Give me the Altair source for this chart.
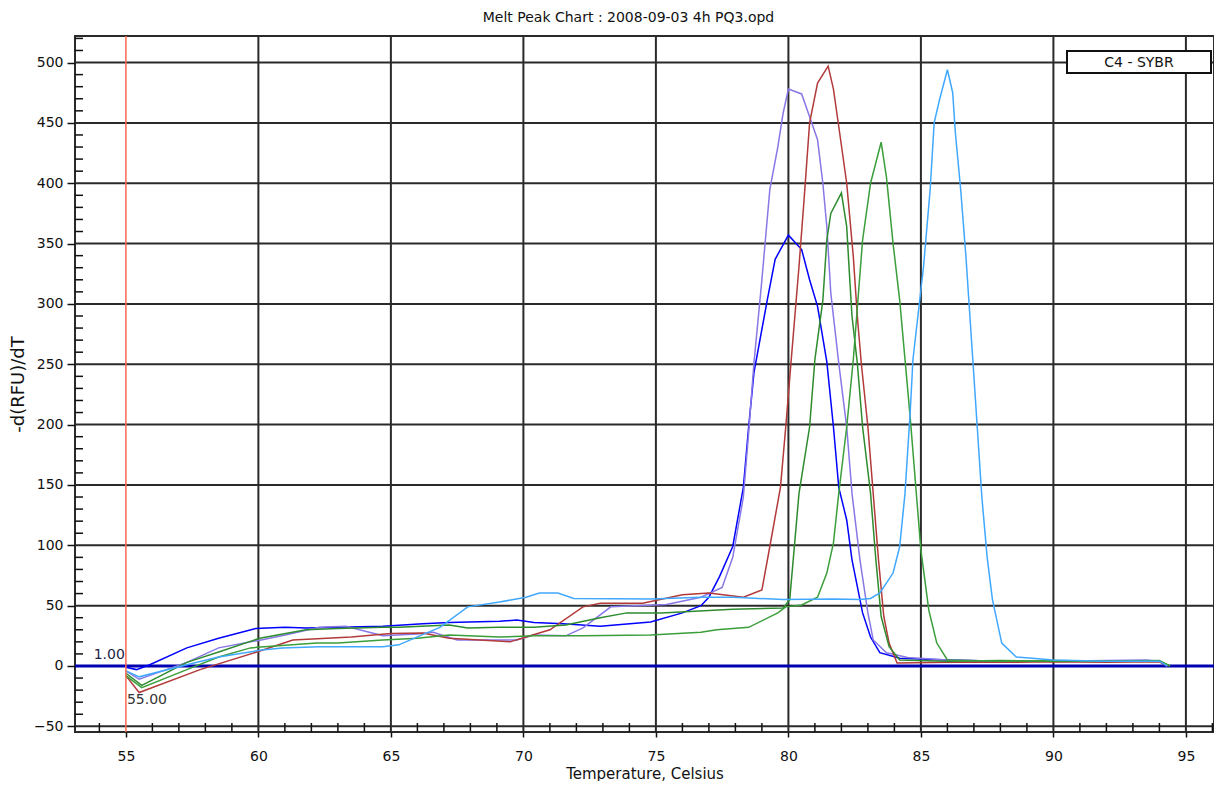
import altair as alt
import pandas as pd

# ---------------- data ----------------
series_names = ["blue", "purple", "red", "green1", "green2", "lightblue"]
series_colors = ["#0000FF", "#8878E6", "#B23A3A", "#2E8B2E", "#3A9E3A", "#40A8FF"]

blue_t = [55.0, 55.4, 55.9, 57.3, 58.5, 59.9, 61.0, 61.8, 63.0, 64.7, 66.2, 67.2, 69.1, 69.75, 70.4, 71.5, 72.9,
          74.8, 76.0, 76.7, 77.0, 77.4, 77.9, 78.3, 78.5, 78.7, 79.2, 79.5, 80.0, 80.5, 80.8, 81.1, 81.45, 81.7,
          81.9, 82.2, 82.4, 82.8, 83.1, 83.45, 84.2, 86.0, 88.0, 90.0, 92.0, 94.0, 94.3]
blue_v = [-1, -3, 1, 15, 23, 31, 32, 31.5, 32, 33, 35, 36, 37, 38, 36, 35, 33,
          36.5, 44, 50, 57, 74, 99, 148, 198, 243, 303, 337, 357, 345, 320, 298, 252, 198,
          148, 121, 88, 44, 24, 11, 6.5, 5, 4, 4, 4, 4, 0]

purple_t = [55.0, 55.5, 57.3, 58.5, 60.1, 61.1, 62.3, 63.3, 64.7, 66.0, 66.6, 67.5, 69.75, 70.4, 71.6, 72.25,
            73.3, 75.4, 76.7, 77.5, 77.9, 78.3, 78.5, 78.7, 79.0, 79.3, 79.6, 79.8, 80.0, 80.5, 80.8, 81.1, 81.3,
            81.45, 81.6, 81.9, 82.2, 82.4, 82.7, 83.0, 83.2, 83.7, 84.5, 86.0, 88.0, 90.0, 92.0, 93.5, 94.0, 94.3]
purple_v = [-4, -11, 3, 15, 21.6, 26, 32, 33, 25, 26.5, 28, 21.6, 21.6, 25.7, 25, 31.5,
            49, 51, 57, 65, 90, 140, 193, 251, 320, 395, 430, 458, 478, 474, 455, 436, 400,
            364, 309, 251, 198, 143, 88, 44, 21.6, 11, 7, 5, 4, 4, 4.5, 5, 4, 0]

red_t = [55.0, 55.5, 57.8, 60.0, 61.3, 63.5, 65.0, 66.2, 67.2, 69.5, 70.1, 71.0, 72.25, 72.9, 74.5, 76.0, 77.0,
         78.3, 79.0, 79.3, 79.7, 79.9, 80.1, 80.4, 80.6, 80.8, 81.1, 81.5, 81.7, 81.9, 82.2, 82.45, 82.6, 82.75,
         83.0, 83.2, 83.4, 83.6, 83.8, 84.1, 86.0, 88.0, 90.0, 92.0, 94.0, 94.3]
red_v = [-8, -22, -3, 12, 21.6, 24, 27, 27.4, 23, 20, 24, 30, 49, 52, 52, 59, 60.5,
         57, 63, 99, 148, 198, 252, 331, 389, 450, 483, 497, 478, 447, 400, 339, 290, 251,
         198, 143, 88, 41, 19, 2.5, 3, 3, 3.5, 3, 3.5, 0]

green1_t = [55.0, 55.6, 57.3, 58.5, 60.05, 61.8, 63.0, 64.7, 65.3, 67.2, 67.9, 69.1, 70.4, 71.6, 72.9, 73.9,
            75.2, 77.9, 79.8, 80.05, 80.4, 80.8, 81.0, 81.3, 81.45, 81.6, 82.0, 82.2, 82.3, 82.4, 82.6, 82.8,
            83.1, 83.3, 83.5, 83.8, 84.2, 86.0, 88.0, 90.0, 92.0, 94.0, 94.4]
green1_v = [-6, -16, 3, 11.6, 23, 30, 31, 32, 32, 34, 31.5, 32, 32, 34, 40, 44,
            44, 47, 48, 55, 143, 198, 254, 303, 353, 375, 392, 364, 326, 290, 251, 198,
            143, 88, 41, 16, 5, 4, 4.5, 4, 4, 4, 0]

green2_t = [55.0, 55.6, 57.3, 58.5, 59.7, 62.2, 63.0, 64.7, 66.0, 67.2, 69.1, 70.4, 72.25, 74.8, 76.7, 77.3,
            78.5, 79.6, 79.9, 80.5, 81.1, 81.45, 81.7, 81.9, 82.2, 82.45, 82.8, 83.1, 83.5, 83.7, 83.95, 84.2,
            84.6, 85.0, 85.3, 85.6, 86.0, 88.0, 90.0, 92.0, 94.0, 94.4]
green2_v = [-8, -18, -3, 7.5, 15, 19, 19, 21.6, 23, 25.7, 24, 25, 25, 25.7, 28, 30,
            32, 44, 49, 50.6, 57, 77, 102, 143, 198, 254, 353, 400, 434, 405, 350, 303,
            205, 96, 46, 19, 5, 4, 4.5, 4, 4.5, 0]

lightblue_t = [55.0, 55.5, 57.3, 58.5, 60.05, 60.9, 62.3, 64.7, 65.3, 66.2, 66.85, 67.9, 69.1, 70.1, 70.6, 71.3,
               71.9, 74.8, 76.7, 77.9, 79.8, 81.7, 82.7, 83.1, 83.45, 83.95, 84.2, 84.4, 84.6, 84.7, 85.1, 85.35,
               85.5, 85.7, 86.0, 86.2, 86.3, 86.5, 86.7, 86.8, 87.0, 87.3, 87.5, 87.7, 88.05, 88.6, 89.2, 90.0,
               92.0, 94.0, 94.3]
lightblue_v = [-4, -9, 1, 7.5, 13, 15, 16, 16, 17.5, 26, 32, 49, 53, 57, 60.5, 60.5,
               56, 55.5, 57, 57, 55, 55.5, 55, 56, 60.5, 77, 99, 143, 212, 254, 331, 395,
               450, 469, 494, 475, 442, 395, 339, 306, 240, 140, 90, 55, 19, 7.5, 6.5, 5,
               4, 4, 0]

x_labels = [55, 60, 65, 70, 75, 80, 85, 90, 95]
x_grid = [60, 65, 70, 75, 80, 85, 90, 95]
y_labels = [-50, 0, 50, 100, 150, 200, 250, 300, 350, 400, 450, 500]
x_minor = [v for v in range(54, 97) if v % 5 != 0]
y_minor = [v for v in range(-50, 521, 10) if v % 50 != 0]

title_text = "Melt Peak Chart : 2008-09-03 4h PQ3.opd"
legend_text = "C4 - SYBR"

# ---------------- build table ----------------
rows = []
for name, ts, vs in [("blue", blue_t, blue_v), ("purple", purple_t, purple_v), ("red", red_t, red_v),
                     ("green1", green1_t, green1_v), ("green2", green2_t, green2_v),
                     ("lightblue", lightblue_t, lightblue_v)]:
    for t, v in zip(ts, vs):
        rows.append({"series": name, "temp": t, "value": v})
df = pd.DataFrame(rows)

W, H = 1139, 696
FONT = "DejaVu Sans"
xscale = alt.Scale(domain=[53.08, 96.06], nice=False, zero=False)
yscale = alt.Scale(domain=[-54.7, 522], nice=False, zero=False)

XAX = alt.Axis(values=x_labels, title="Temperature, Celsius", grid=False, tickSize=5,
               labelPadding=12, titlePadding=3, format="d", titleFontSize=15)
YAX = alt.Axis(values=y_labels, title="-d(RFU)/dT", grid=False, tickSize=8,
               labelPadding=4, titlePadding=6, format="d", titleFontSize=18)


def X(field):
    return alt.X(field, scale=xscale, axis=XAX)


def Y(field):
    return alt.Y(field, scale=yscale, axis=YAX)


xgrid = alt.Chart(pd.DataFrame({"temp": x_grid})).mark_rule(color="#2a2a2a", strokeWidth=2).encode(
    x=X("temp:Q"))
ygrid = alt.Chart(pd.DataFrame({"value": y_labels})).mark_rule(color="#2a2a2a", strokeWidth=2).encode(
    y=Y("value:Q"))
yminor = alt.Chart(pd.DataFrame({"value": y_minor})).mark_rule(color="#111", strokeWidth=1.5).encode(
    y=Y("value:Q"), x=alt.value(0), x2=alt.value(8))
xminor = alt.Chart(pd.DataFrame({"temp": x_minor})).mark_rule(color="#111", strokeWidth=1.5).encode(
    x=X("temp:Q"), y=alt.value(H - 9), y2=alt.value(H))
zero = alt.Chart(pd.DataFrame({"value": [0]})).mark_rule(color="#0000B0", strokeWidth=3).encode(
    y=Y("value:Q"))

lines = alt.Chart(df).mark_line(strokeWidth=1.5).encode(
    x=X("temp:Q"),
    y=Y("value:Q"),
    color=alt.Color("series:N", scale=alt.Scale(domain=series_names, range=series_colors), legend=None),
    detail="series:N",
)

cursor = alt.Chart(pd.DataFrame({"temp": [55]})).mark_rule(color="#FF6A4D", strokeWidth=1.5).encode(
    x=X("temp:Q"))

lbl_a = alt.Chart(pd.DataFrame({"temp": [55], "value": [0], "t": ["1.00"]})).mark_text(
    align="right", baseline="bottom", dx=-1, dy=-4, font=FONT, fontSize=14, color="#22224a").encode(
    x=X("temp:Q"), y=Y("value:Q"), text="t:N")
lbl_b = alt.Chart(pd.DataFrame({"temp": [55], "value": [0], "t": ["55.00"]})).mark_text(
    align="left", baseline="top", dx=1, dy=27, font=FONT, fontSize=14, color="#333333").encode(
    x=X("temp:Q"), y=Y("value:Q"), text="t:N")

box = alt.Chart(pd.DataFrame({"t": [legend_text]})).mark_rect(
    fill="white", stroke="#111", strokeWidth=2).encode(
    x=alt.value(992), x2=alt.value(1136), y=alt.value(15), y2=alt.value(37))
box_text = alt.Chart(pd.DataFrame({"t": [legend_text]})).mark_text(
    font=FONT, fontSize=14, color="#111", align="center", baseline="middle").encode(
    x=alt.value(1064), y=alt.value(26.5), text="t:N")

chart = alt.layer(xgrid, ygrid, yminor, xminor, zero, lines, cursor, lbl_a, lbl_b, box, box_text).properties(
    width=W, height=H,
    title=alt.TitleParams(title_text, anchor="middle", font=FONT, fontSize=14, fontWeight="normal",
                          color="#111", offset=10, dx=-16),
    autosize=alt.AutoSizeParams(type="none"),
    padding={"left": 67, "top": 28, "right": 0, "bottom": 49},
    background="white",
).configure_view(stroke="#2a2a2a", strokeWidth=2).configure_axis(
    labelFont=FONT, labelFontSize=14, labelColor="#111", tickColor="#111", tickWidth=1.5,
    domain=False, titleFont=FONT, titleFontWeight="normal", titleColor="#111",
)

chart.save("out.html", embed_options={"renderer": "svg", "actions": False})
